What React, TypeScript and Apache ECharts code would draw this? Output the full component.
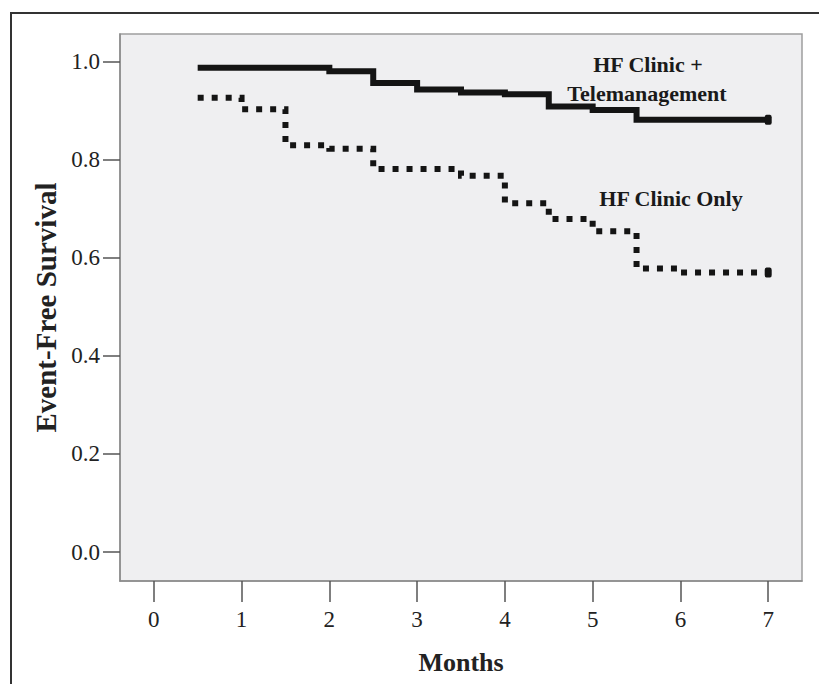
import React, { useEffect, useRef } from "react";
import * as echarts from "echarts";

const xTicks = [0, 1, 2, 3, 4, 5, 6, 7];
const yTicks = [0, 0.2, 0.4, 0.6, 0.8, 1.0];

const teleTimes = [0.5, 2.0, 2.5, 3.0, 3.5, 4.0, 4.5, 5.0, 5.5, 7.0];
const teleSurvival = [0.987, 0.98, 0.956, 0.943, 0.937, 0.933, 0.908, 0.901, 0.881, 0.881];

const clinicTimes = [0.5, 1.0, 1.5, 2.0, 2.5, 3.5, 4.0, 4.5, 5.0, 5.5, 6.0, 7.0];
const clinicSurvival = [0.926, 0.9025, 0.829, 0.822, 0.781, 0.767, 0.711, 0.679, 0.654, 0.578, 0.57, 0.57];

const seriesNames = ["HF Clinic + Telemanagement", "HF Clinic Only"];

const FONT = "'Liberation Serif', 'Times New Roman', serif";

export default function App() {
  const ref = useRef<HTMLDivElement>(null);

  useEffect(() => {
    if (!ref.current) return;
    const chart = echarts.init(ref.current, null, { renderer: "svg" });

    const pair = (t: number[], v: number[]) => t.map((x, i) => [x, v[i]]);
    const endSymbol = (n: number) => (_v: any, p: any) => (p.dataIndex === n - 1 ? "roundRect" : "none");

    chart.setOption({
      animation: false,
      backgroundColor: "#ffffff",
      grid: {
        left: 120,
        top: 34,
        right: 17,
        bottom: 103,
        show: true,
        backgroundColor: "#efeff1",
        borderColor: "#9e9e9e",
        borderWidth: 1.5,
      },
      xAxis: {
        type: "value",
        min: -0.385,
        max: 7.385,
        splitLine: { show: false },
        axisLine: { show: true, onZero: false, lineStyle: { color: "#8a8a8a", width: 1.5 } },
        axisTick: { show: true, length: 21, customValues: xTicks, lineStyle: { color: "#555", width: 1.5 } },
        axisLabel: {
          customValues: xTicks,
          margin: 27,
          fontFamily: FONT,
          fontSize: 23,
          color: "#222",
          formatter: (v: number) => String(Math.round(v)),
        },
        name: "Months",
        nameLocation: "middle",
        nameGap: 68,
        nameTextStyle: { fontFamily: FONT, fontWeight: "bold", fontSize: 26, color: "#222" },
      },
      yAxis: {
        type: "value",
        min: -0.059,
        max: 1.056,
        splitLine: { show: false },
        axisLine: { show: true, onZero: false, lineStyle: { color: "#8a8a8a", width: 1.5 } },
        axisTick: { show: true, length: 17, customValues: yTicks, lineStyle: { color: "#555", width: 1.5 } },
        axisLabel: {
          customValues: yTicks,
          margin: 20,
          fontFamily: FONT,
          fontSize: 23,
          color: "#222",
          formatter: (v: number) => v.toFixed(1),
        },
        name: "Event-Free Survival",
        nameLocation: "middle",
        nameGap: 54,
        nameRotate: 90,
        nameTextStyle: { fontFamily: FONT, fontWeight: "bold", fontSize: 29, color: "#222" },
      },
      series: [
        {
          name: seriesNames[0],
          type: "line",
          step: "end",
          data: pair(teleTimes, teleSurvival),
          symbol: endSymbol(teleTimes.length),
          symbolSize: [7, 10],
          showSymbol: true,
          itemStyle: { color: "#141414" },
          lineStyle: { color: "#141414", width: 6, cap: "butt", join: "miter" },
          z: 3,
        },
        {
          name: seriesNames[1],
          type: "line",
          step: "end",
          data: pair(clinicTimes, clinicSurvival),
          symbol: endSymbol(clinicTimes.length),
          symbolSize: [7, 10],
          showSymbol: true,
          itemStyle: { color: "#141414" },
          lineStyle: { color: "#141414", width: 6, type: [6, 8], cap: "butt", join: "miter" },
          z: 3,
        },
      ],
      graphic: [
        {
          type: "polyline",
          shape: { points: [[11, 684], [11, 13], [819, 13]] },
          style: { stroke: "#333", lineWidth: 2, fill: "none" },
        },
        {
          type: "text",
          x: 648,
          y: 64,
          style: { text: "HF Clinic +", textAlign: "center", textVerticalAlign: "middle", fontFamily: FONT, fontWeight: "bold", fontSize: 22, fill: "#1a1a1a" },
        },
        {
          type: "text",
          x: 647,
          y: 93,
          style: { text: "Telemanagement", textAlign: "center", textVerticalAlign: "middle", fontFamily: FONT, fontWeight: "bold", fontSize: 22, fill: "#1a1a1a" },
        },
        {
          type: "text",
          x: 671,
          y: 198,
          style: { text: "HF Clinic Only", textAlign: "center", textVerticalAlign: "middle", fontFamily: FONT, fontWeight: "bold", fontSize: 22, fill: "#1a1a1a" },
        },
      ],
    });

    return () => chart.dispose();
  }, []);

  return (
    <div
      ref={ref}
      style={{ position: "absolute", left: 0, top: 0, width: 819, height: 684, background: "#fff" }}
    />
  );
}
